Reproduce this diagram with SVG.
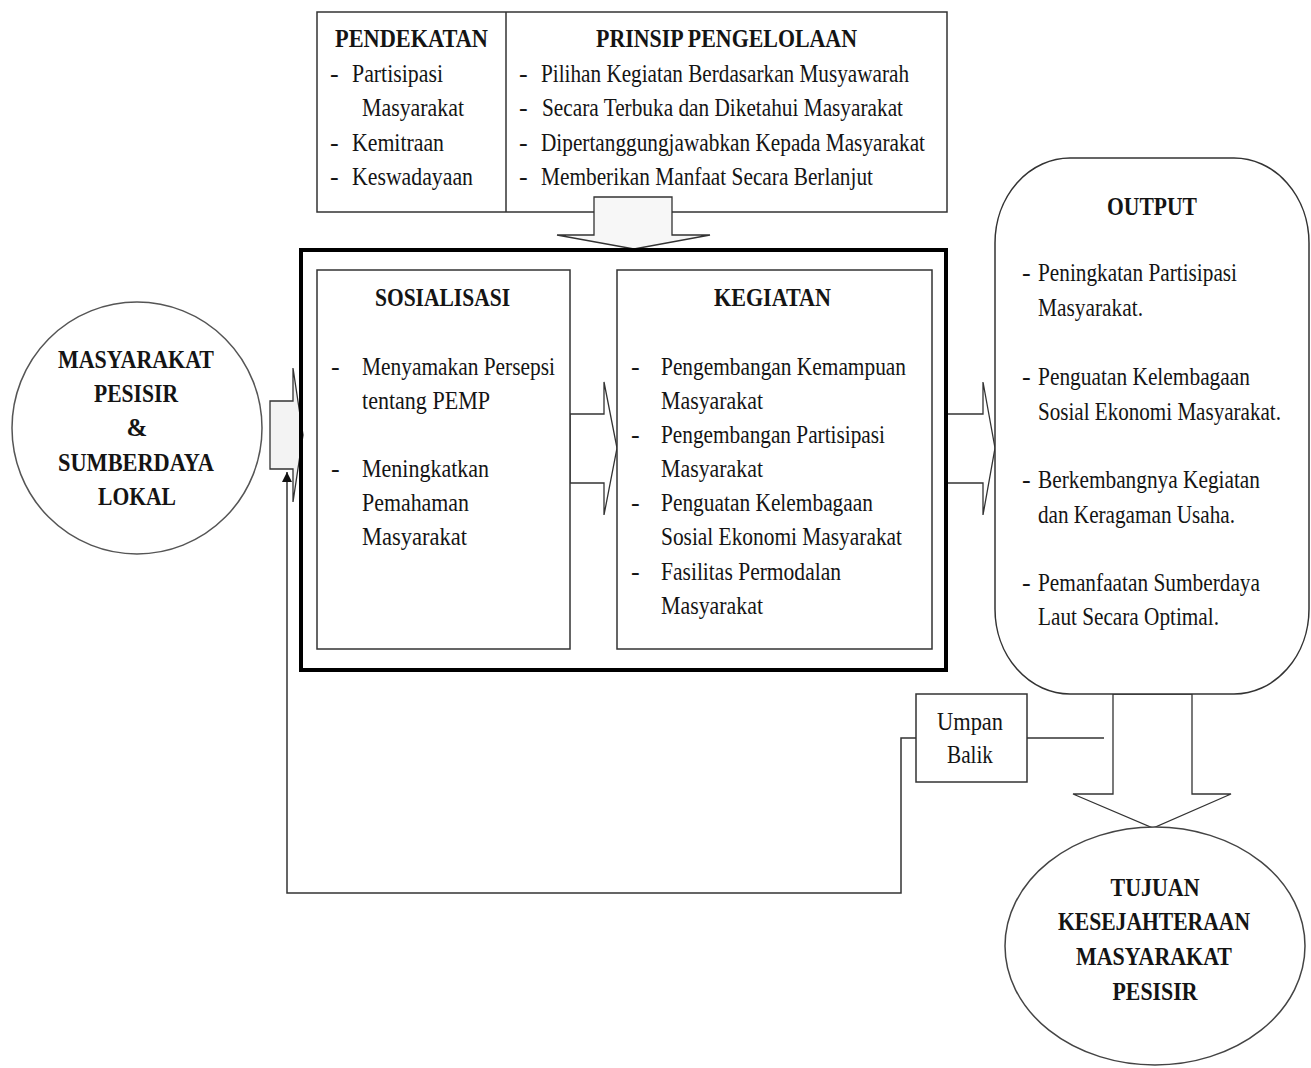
<svg xmlns="http://www.w3.org/2000/svg" width="1311" height="1068" viewBox="0 0 1311 1068">
<style>
.t{font-family:"Liberation Serif","Times New Roman",serif;font-size:26px;fill:#141414}
.b{font-weight:bold;font-size:25px}
.c{text-anchor:middle}
.ln{fill:none;stroke:#333;stroke-width:1.5}
.bx{fill:#fff;stroke:#333;stroke-width:1.5}
.ar{fill:#fff;stroke:#333;stroke-width:1.3}
</style>
<defs>
<marker id="ah" viewBox="0 0 10 10" refX="10" refY="5" markerWidth="15" markerHeight="10" markerUnits="userSpaceOnUse" orient="auto" overflow="visible">
<path d="M0,0 L10,5 L0,10 z" fill="#111"/>
</marker>
</defs>
<rect width="1311" height="1068" fill="#fff"/>

<g id="top-box">
<rect class="bx" x="317" y="12" width="630" height="200"/>
<line class="ln" x1="506" y1="12" x2="506" y2="212"/>
<text class="t b" x="335" y="47" textLength="153" lengthAdjust="spacingAndGlyphs">PENDEKATAN</text>
<text class="t" x="330" y="82">-</text>
<text class="t" x="352" y="82" textLength="91" lengthAdjust="spacingAndGlyphs">Partisipasi</text>
<text class="t" x="362" y="116" textLength="102" lengthAdjust="spacingAndGlyphs">Masyarakat</text>
<text class="t" x="330" y="151">-</text>
<text class="t" x="352" y="151" textLength="92" lengthAdjust="spacingAndGlyphs">Kemitraan</text>
<text class="t" x="330" y="185">-</text>
<text class="t" x="352" y="185" textLength="121" lengthAdjust="spacingAndGlyphs">Keswadayaan</text>
<text class="t b" x="596" y="47" textLength="261" lengthAdjust="spacingAndGlyphs">PRINSIP PENGELOLAAN</text>
<text class="t" x="519" y="82">-</text>
<text class="t" x="541" y="82" textLength="368" lengthAdjust="spacingAndGlyphs">Pilihan Kegiatan Berdasarkan Musyawarah</text>
<text class="t" x="519" y="116">-</text>
<text class="t" x="542" y="116" textLength="361" lengthAdjust="spacingAndGlyphs">Secara Terbuka dan Diketahui Masyarakat</text>
<text class="t" x="519" y="151">-</text>
<text class="t" x="541" y="151" textLength="384" lengthAdjust="spacingAndGlyphs">Dipertanggungjawabkan Kepada Masyarakat</text>
<text class="t" x="519" y="185">-</text>
<text class="t" x="541" y="185" textLength="332" lengthAdjust="spacingAndGlyphs">Memberikan Manfaat Secara Berlanjut</text>
</g>

<g id="masyarakat-pesisir">
<ellipse cx="137" cy="428" rx="125" ry="126" fill="#fff" stroke="#555" stroke-width="1.5"/>
<text class="t b c" x="136" y="368" textLength="156" lengthAdjust="spacingAndGlyphs">MASYARAKAT</text>
<text class="t b c" x="136" y="402" textLength="84" lengthAdjust="spacingAndGlyphs">PESISIR</text>
<text class="t b c" x="137" y="436">&amp;</text>
<text class="t b c" x="136" y="471" textLength="156" lengthAdjust="spacingAndGlyphs">SUMBERDAYA</text>
<text class="t b c" x="137" y="505" textLength="78" lengthAdjust="spacingAndGlyphs">LOKAL</text>
</g>

<g id="connectors">
<polygon points="270,401 293,401 293,368 303,435 293,502 293,469 270,469" fill="#f3f3f3" stroke="#333" stroke-width="1.3"/>
<polygon class="ar" points="594,197 672,197 672,235 710,235 634,249 557,235 594,235" style="fill:#f7f7f7"/>
<polygon class="ar" points="570,414 604,414 604,382 617,448 604,515 604,483 570,483"/>
<polygon class="ar" points="947,414 983,414 983,382 995,448 983,515 983,483 947,483"/>
<polygon class="ar" points="1113,694 1113,794 1073,794 1153,828 1231,794 1192,794 1192,694"/>
<polyline class="ln" points="916,738 901,738 901,893 287,893 287,472" marker-end="url(#ah)"/>
<line class="ln" x1="1027" y1="738" x2="1104" y2="738"/>
</g>

<g id="program-box">
<rect x="301" y="250" width="645" height="420" fill="none" stroke="#000" stroke-width="4"/>
</g>

<g id="sosialisasi">
<rect class="bx" x="317" y="270" width="253" height="379"/>
<text class="t b" x="375" y="306" textLength="135" lengthAdjust="spacingAndGlyphs">SOSIALISASI</text>
<text class="t" x="331" y="375">-</text>
<text class="t" x="362" y="375" textLength="193" lengthAdjust="spacingAndGlyphs">Menyamakan Persepsi</text>
<text class="t" x="362" y="409" textLength="128" lengthAdjust="spacingAndGlyphs">tentang PEMP</text>
<text class="t" x="331" y="477">-</text>
<text class="t" x="362" y="477" textLength="127" lengthAdjust="spacingAndGlyphs">Meningkatkan</text>
<text class="t" x="362" y="511" textLength="107" lengthAdjust="spacingAndGlyphs">Pemahaman</text>
<text class="t" x="362" y="545" textLength="105" lengthAdjust="spacingAndGlyphs">Masyarakat</text>
</g>

<g id="kegiatan">
<rect class="bx" x="617" y="270" width="315" height="379"/>
<text class="t b" x="714" y="306" textLength="117" lengthAdjust="spacingAndGlyphs">KEGIATAN</text>
<text class="t" x="631" y="375">-</text>
<text class="t" x="661" y="375" textLength="245" lengthAdjust="spacingAndGlyphs">Pengembangan Kemampuan</text>
<text class="t" x="661" y="409" textLength="102" lengthAdjust="spacingAndGlyphs">Masyarakat</text>
<text class="t" x="631" y="443">-</text>
<text class="t" x="661" y="443" textLength="224" lengthAdjust="spacingAndGlyphs">Pengembangan Partisipasi</text>
<text class="t" x="661" y="477" textLength="102" lengthAdjust="spacingAndGlyphs">Masyarakat</text>
<text class="t" x="631" y="511">-</text>
<text class="t" x="661" y="511" textLength="212" lengthAdjust="spacingAndGlyphs">Penguatan Kelembagaan</text>
<text class="t" x="661" y="545" textLength="241" lengthAdjust="spacingAndGlyphs">Sosial Ekonomi Masyarakat</text>
<text class="t" x="631" y="580">-</text>
<text class="t" x="661" y="580" textLength="180" lengthAdjust="spacingAndGlyphs">Fasilitas Permodalan</text>
<text class="t" x="661" y="614" textLength="102" lengthAdjust="spacingAndGlyphs">Masyarakat</text>
</g>

<g id="output">
<rect class="bx" x="995" y="158" width="314" height="536" rx="75" ry="85"/>
<text class="t b" x="1107" y="215" textLength="90" lengthAdjust="spacingAndGlyphs">OUTPUT</text>
<text class="t" x="1022" y="281">-</text>
<text class="t" x="1038" y="281" textLength="199" lengthAdjust="spacingAndGlyphs">Peningkatan Partisipasi</text>
<text class="t" x="1038" y="316" textLength="105" lengthAdjust="spacingAndGlyphs">Masyarakat.</text>
<text class="t" x="1022" y="385">-</text>
<text class="t" x="1038" y="385" textLength="212" lengthAdjust="spacingAndGlyphs">Penguatan Kelembagaan</text>
<text class="t" x="1038" y="420" textLength="243" lengthAdjust="spacingAndGlyphs">Sosial Ekonomi Masyarakat.</text>
<text class="t" x="1022" y="488">-</text>
<text class="t" x="1038" y="488" textLength="222" lengthAdjust="spacingAndGlyphs">Berkembangnya Kegiatan</text>
<text class="t" x="1038" y="523" textLength="197" lengthAdjust="spacingAndGlyphs">dan Keragaman Usaha.</text>
<text class="t" x="1022" y="591">-</text>
<text class="t" x="1038" y="591" textLength="222" lengthAdjust="spacingAndGlyphs">Pemanfaatan Sumberdaya</text>
<text class="t" x="1038" y="625" textLength="181" lengthAdjust="spacingAndGlyphs">Laut Secara Optimal.</text>
</g>

<g id="umpan-balik">
<rect class="bx" x="916" y="694" width="111" height="88"/>
<text class="t c" x="970" y="730" textLength="66" lengthAdjust="spacingAndGlyphs">Umpan</text>
<text class="t c" x="970" y="763" textLength="46" lengthAdjust="spacingAndGlyphs">Balik</text>
</g>

<g id="tujuan">
<ellipse cx="1155" cy="946" rx="150" ry="119" fill="#fff" stroke="#444" stroke-width="1.5"/>
<text class="t b c" x="1155" y="896" textLength="89" lengthAdjust="spacingAndGlyphs">TUJUAN</text>
<text class="t b c" x="1154" y="930" textLength="192" lengthAdjust="spacingAndGlyphs">KESEJAHTERAAN</text>
<text class="t b c" x="1154" y="965" textLength="156" lengthAdjust="spacingAndGlyphs">MASYARAKAT</text>
<text class="t b c" x="1155" y="1000" textLength="85" lengthAdjust="spacingAndGlyphs">PESISIR</text>
</g>
</svg>
